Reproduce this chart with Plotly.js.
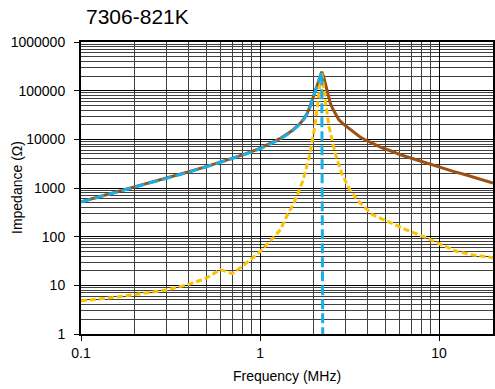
<!DOCTYPE html>
<html>
<head>
<meta charset="utf-8">
<script src="https://cdn.plot.ly/plotly-3.0.1.min.js"></script>
<style>html,body{margin:0;padding:0;background:#fff;}#chart{width:495px;height:389px;}</style>
</head>
<body>
<div id="chart"></div>
<script>
// Impedance |Z| (brown, solid)
const freqZ = [0.1, 0.2, 0.3, 0.4, 0.5, 0.6, 0.7, 0.8, 1.0, 1.29, 1.5, 1.67, 1.75, 1.83, 1.9, 1.98, 2.05, 2.12, 2.17, 2.21, 2.26, 2.31, 2.35, 2.4, 2.47, 2.55, 2.65, 2.75, 2.9, 3.0, 3.18, 3.4, 3.62, 3.9, 4.3, 4.8, 5.3, 6.2, 7.3, 8.5, 10, 12, 14.2, 17, 20];
const impZ  = [520, 1040, 1580, 2150, 2750, 3400, 4050, 4800, 6500, 10300, 14800, 21000, 26000, 34000, 47000, 72000, 108000, 160000, 205000, 245000, 200000, 142000, 105000, 78000, 55000, 42000, 32000, 25500, 21000, 19000, 15800, 13000, 11200, 9600, 8000, 6700, 5900, 4700, 3900, 3250, 2700, 2200, 1850, 1520, 1270];

// Reactance X (blue, dashed)
const freqX = [0.1, 0.2, 0.3, 0.4, 0.5, 0.6, 0.7, 0.8, 1.0, 1.29, 1.5, 1.67, 1.75, 1.83, 1.9, 1.98, 2.05, 2.12, 2.17, 2.21, 2.25];
const reactX = [515, 1030, 1560, 2120, 2720, 3350, 4000, 4750, 6400, 10000, 14400, 20500, 25500, 33000, 46000, 70000, 105000, 155000, 200000, 240000, 0.01];

// Resistance R (yellow, dashed)
const freqR = [0.1, 0.15, 0.2, 0.3, 0.4, 0.5, 0.6, 0.7, 0.8, 0.9, 1.0, 1.2, 1.3, 1.4, 1.55, 1.74, 1.9, 2.02, 2.12, 2.18, 2.21, 2.31, 2.43, 2.63, 2.86, 3.18, 3.6, 4.27, 5.2, 6.6, 8.2, 10, 12.5, 15.5, 20];
const resR  = [4.8, 5.6, 6.5, 8.0, 10.5, 14, 21, 17.5, 25, 36, 49, 100, 140, 250, 500, 1450, 5100, 18000, 64000, 165000, 240000, 64000, 18000, 5100, 2000, 900, 500, 280, 200, 137, 100, 73, 50, 42, 37];

const xTickVals = [0.1, 1, 10];
const xTickText = ['0.1', '1', '10'];
const yTickVals = [1, 10, 100, 1000, 10000, 100000, 1000000];
const yTickText = ['1', '10', '100', '1000', '10000', '100000', '1000000'];

const FONT = 'Liberation Sans, Arial, sans-serif';

const traces = [
  {x: freqZ, y: impZ, type: 'scatter', mode: 'lines', name: 'Z',
   line: {color: '#9E5012', width: 3}},
  {x: freqR, y: resR, type: 'scatter', mode: 'lines', name: 'R',
   line: {color: '#FFC000', width: 3, dash: '6px,3px'}},
  {x: freqX, y: reactX, type: 'scatter', mode: 'lines', name: 'X',
   line: {color: '#1AAEE6', width: 3, dash: '10px,4px'}}
];

const layout = {
  width: 495, height: 389,
  margin: {l: 81, r: 2, t: 42, b: 55},
  paper_bgcolor: '#fff', plot_bgcolor: '#fff',
  showlegend: false,
  font: {family: FONT, color: '#000', size: 14},
  title: {text: '7306-821K', font: {family: FONT, size: 21, color: '#000'},
          xref: 'container', x: 86/495, xanchor: 'left',
          yref: 'container', y: 1 - 16.5/389, yanchor: 'middle'},
  xaxis: {
    type: 'log', range: [-1, Math.log10(20)],
    tickvals: xTickVals, ticktext: xTickText,
    ticks: 'outside', ticklen: 5, tickcolor: '#000', tickwidth: 1,
    showgrid: true, gridcolor: '#000', gridwidth: 1,
    minor: {dtick: 'D1', showgrid: true, gridcolor: '#404040', gridwidth: 1, ticks: ''},
    showline: true, linecolor: '#000', linewidth: 2, mirror: true,
    zeroline: false,
    tickfont: {family: FONT, size: 14, color: '#000'},
    title: {text: 'Frequency (MHz)', font: {family: FONT, size: 14, color: '#000'}, standoff: 11}
  },
  yaxis: {
    type: 'log', range: [0, 6],
    tickvals: yTickVals, ticktext: yTickText,
    ticks: 'outside', ticklen: 5, tickcolor: '#000', tickwidth: 1,
    ticklabelstandoff: 6,
    showgrid: true, gridcolor: '#000', gridwidth: 1,
    minor: {dtick: 'D1', showgrid: true, gridcolor: '#404040', gridwidth: 1, ticks: ''},
    showline: true, linecolor: '#000', linewidth: 2, mirror: true,
    zeroline: false,
    tickfont: {family: FONT, size: 14, color: '#000'}
  },
  annotations: [{
    text: 'Impedance (Ω)', textangle: -90, showarrow: false,
    xref: 'paper', x: (17 - 81) / 412, xanchor: 'center',
    yref: 'paper', y: 0.5, yanchor: 'middle',
    font: {family: FONT, size: 14, color: '#000'}
  }]
};

Plotly.newPlot('chart', traces, layout, {displayModeBar: false, staticPlot: true});
</script>
</body>
</html>
